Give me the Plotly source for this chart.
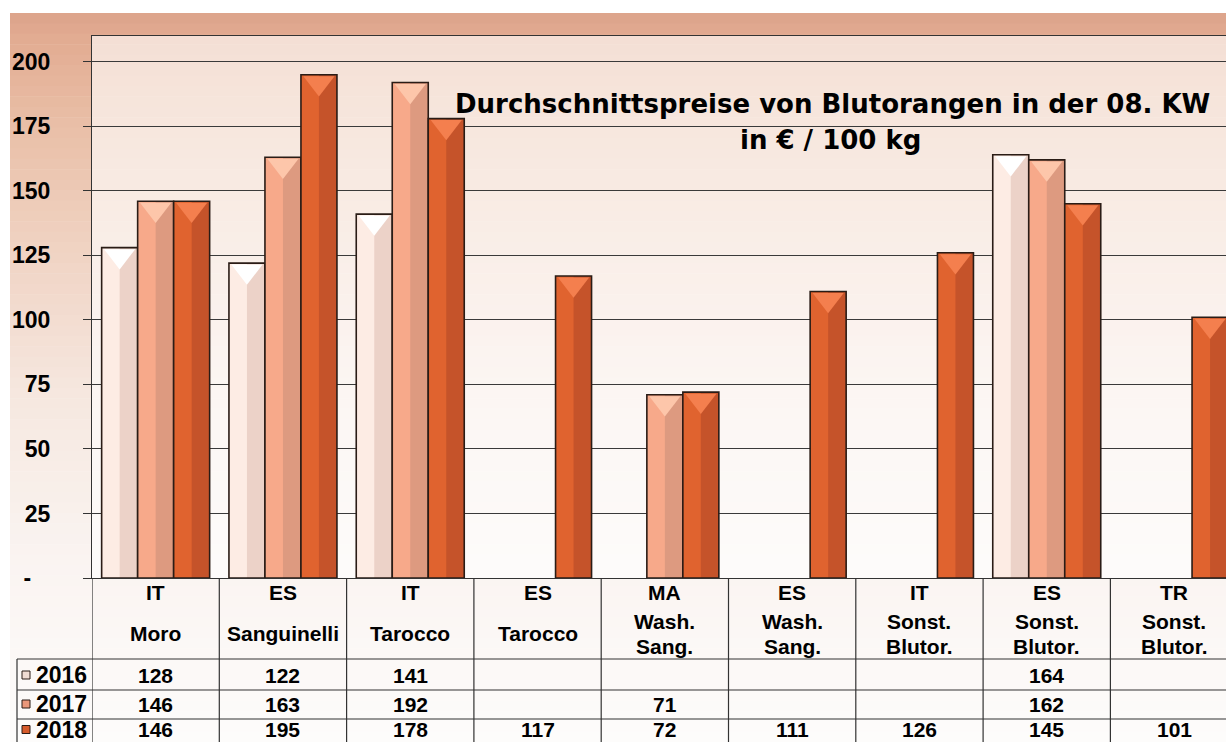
import plotly.graph_objects as go

# ---------------- data ----------------
countries = ["IT", "ES", "IT", "ES", "MA", "ES", "IT", "ES", "TR"]
variety_line1 = ["", "", "", "", "Wash.", "Wash.", "Sonst.", "Sonst.", "Sonst."]
variety_line2 = ["Moro", "Sanguinelli", "Tarocco", "Tarocco", "Sang.", "Sang.", "Blutor.", "Blutor.", "Blutor."]
years = ["2016", "2017", "2018"]
v2016 = [128, 122, 141, None, None, None, None, 164, None]
v2017 = [146, 163, 192, None, 71, None, None, 162, None]
v2018 = [146, 195, 178, 117, 72, 111, 126, 145, 101]
ytick_vals = [0, 25, 50, 75, 100, 125, 150, 175, 200]
ytick_text = ["-\u00a0\u00a0\u00a0", "25", "50", "75", "100", "125", "150", "175", "200"]
title_line1 = "Durchschnittspreise von Blutorangen in der 08. KW"
title_line2 = "in € / 100 kg"

series = [v2016, v2017, v2018]
# styles
main_cols = ["#fdece4", "#f7a98a", "#e0632f"]
dark_cols = ["#ecd2c8", "#dd9a80", "#c5532a"]
tri_cols = ["#ffffff", "#fdc6aa", "#f47f4e"]
key_cols = ["#f0dcd3", "#ea977a", "#d65b2b"]
outline = "#2a1c16"
FONT = "Arial, Liberation Sans, sans-serif"
TITLE_FONT = "DejaVu Sans, Arial, sans-serif"

W, H = 1226, 742
L, T, B = 92, 36, 164
PW, PH = W - L, H - T - B
YMAX = 210
CAT_PX = 127.3


def px_x(p):
    return (p - L) / PW


def px_y(p):
    return (H - B - p) / PH


n = len(countries)
xs = list(range(n))
w = 36 / CAT_PX
start = -1.5 * w

fig = go.Figure()

for k, vals in enumerate(series):
    off = start + k * w
    fig.add_trace(go.Bar(x=xs, y=vals, width=w, offset=off, marker=dict(color=main_cols[k], line=dict(width=0)),
                         name=years[k], hoverinfo="y"))
    fig.add_trace(go.Bar(x=xs, y=vals, width=w / 2, offset=off + w / 2,
                         marker=dict(color=dark_cols[k], line=dict(width=0)), hoverinfo="skip", showlegend=False))
    fig.add_trace(go.Bar(x=xs, y=vals, width=w, offset=off,
                         marker=dict(color="rgba(0,0,0,0)", line=dict(width=1.6, color=outline)),
                         hoverinfo="skip", showlegend=False))

# top bevel triangles on a shifted overlay axis
tri_size = 27
shift_px = tri_size / 4 + 1.5
d = shift_px * YMAX / PH
for k, vals in enumerate(series):
    off = start + k * w + w / 2
    fig.add_trace(go.Scatter(x=[i + off for i in xs], y=vals, yaxis="y2", mode="markers",
                             marker=dict(symbol="triangle-down", size=tri_size, color=tri_cols[k], line=dict(width=0)),
                             hoverinfo="skip", showlegend=False))

shapes = []


# background gradient
def hex2rgb(h):
    h = h.lstrip("#")
    return [int(h[i:i + 2], 16) for i in (0, 2, 4)]


anchors = [(13, "#dca38a"), (36, "#e2ab91"), (120, "#e9bea6"), (250, "#f0d3c3"),
           (400, "#f6e8e0"), (560, "#faf4f1"), (742, "#fdfcfb")]
nb = 70
y0p, y1p = 13, 742
for b in range(nb):
    ta = y0p + (y1p - y0p) * b / nb
    tb = y0p + (y1p - y0p) * (b + 1) / nb
    tm = (ta + tb) / 2
    for j in range(len(anchors) - 1):
        if anchors[j][0] <= tm <= anchors[j + 1][0]:
            f = (tm - anchors[j][0]) / (anchors[j + 1][0] - anchors[j][0])
            c0, c1 = hex2rgb(anchors[j][1]), hex2rgb(anchors[j + 1][1])
            col = [round(c0[i] + (c1[i] - c0[i]) * f) for i in range(3)]
            break
    shapes.append(dict(type="rect", xref="paper", yref="paper", x0=px_x(10), x1=1.0,
                       y0=px_y(tb + 0.5), y1=px_y(ta), fillcolor="rgb(%d,%d,%d)" % tuple(col),
                       line=dict(width=0), layer="below"))
# lighter plot area
shapes.append(dict(type="rect", xref="paper", yref="paper", x0=0, x1=1, y0=0, y1=1,
                   fillcolor="rgba(255,255,255,0.62)", line=dict(width=0), layer="below"))

# table grid
line_col = "#333333"
tbl_bottom = px_y(H + 5)
for i in range(n):
    shapes.append(dict(type="line", xref="x", yref="paper", x0=i - 0.5, x1=i - 0.5, y0=0, y1=tbl_bottom,
                       line=dict(color=line_col, width=1.2)))
row_lines = [659, 690, 719]
for r in row_lines:
    shapes.append(dict(type="line", xref="paper", yref="paper", x0=px_x(17), x1=1, y0=px_y(r), y1=px_y(r),
                       line=dict(color=line_col, width=1.2)))
shapes.append(dict(type="line", xref="paper", yref="paper", x0=px_x(17), x1=px_x(17), y0=px_y(659),
                   y1=tbl_bottom, line=dict(color=line_col, width=1.2)))


def ann(text, x, y, size, xref="paper", xanchor="center", family=FONT):
    return dict(text="<b>%s</b>" % text, xref=xref, yref="paper", x=x, y=y, showarrow=False,
                xanchor=xanchor, yanchor="middle", font=dict(family=family, size=size, color="black"))


annotations = []
# title
annotations.append(ann(title_line1, px_x(832), px_y(104), 26, family=TITLE_FONT))
annotations.append(ann(title_line2, px_x(830), px_y(140), 26, family=TITLE_FONT))
# category headers
for i in range(n):
    annotations.append(ann(countries[i], i, px_y(592), 21, xref="x"))
    if variety_line1[i]:
        annotations.append(ann(variety_line1[i], i, px_y(621), 21, xref="x"))
        annotations.append(ann(variety_line2[i], i, px_y(646), 21, xref="x"))
    else:
        annotations.append(ann(variety_line2[i], i, px_y(633), 21, xref="x"))
# table values and year labels
row_centers = [675, 704, 729.5]
for k, vals in enumerate(series):
    yc = px_y(row_centers[k])
    annotations.append(ann(years[k], px_x(89), yc, 23, xanchor="right"))
    shapes.append(dict(type="rect", xref="paper", yref="paper", x0=px_x(22), x1=px_x(30),
                       y0=yc - 4 / PH, y1=yc + 4 / PH, fillcolor=key_cols[k],
                       line=dict(color=outline, width=1)))
    for i, v in enumerate(vals):
        if v is not None:
            annotations.append(ann("%d" % v, i, yc, 21, xref="x"))

fig.update_layout(
    width=W, height=H,
    margin=dict(l=L, r=0, t=T, b=B, pad=0),
    paper_bgcolor="white", plot_bgcolor="rgba(0,0,0,0)",
    barmode="overlay", showlegend=False,
    shapes=shapes, annotations=annotations,
    xaxis=dict(range=[-0.5, -0.5 + PW / CAT_PX], showgrid=False, zeroline=False, showticklabels=False,
               ticks="", showline=True, linecolor=line_col, linewidth=1.2, mirror=True, fixedrange=True),
    yaxis=dict(range=[0, YMAX], tickvals=ytick_vals, ticktext=ytick_text, showgrid=True, gridcolor="#3a3a3a",
               gridwidth=1.2, zeroline=False, showline=True, linecolor=line_col, linewidth=1.2,
               ticks="outside", ticklen=8, tickcolor=line_col, tickwidth=1.2,
               tickfont=dict(family=FONT, size=23, color="black", weight="bold"), ticklabelstandoff=28,
               fixedrange=True),
    yaxis2=dict(range=[d, YMAX + d], overlaying="y", visible=False, fixedrange=True),
)

fig.write_html("out.html", config={"displayModeBar": False},
               post_script="document.body.style.margin='0';document.body.style.overflow='hidden';")
